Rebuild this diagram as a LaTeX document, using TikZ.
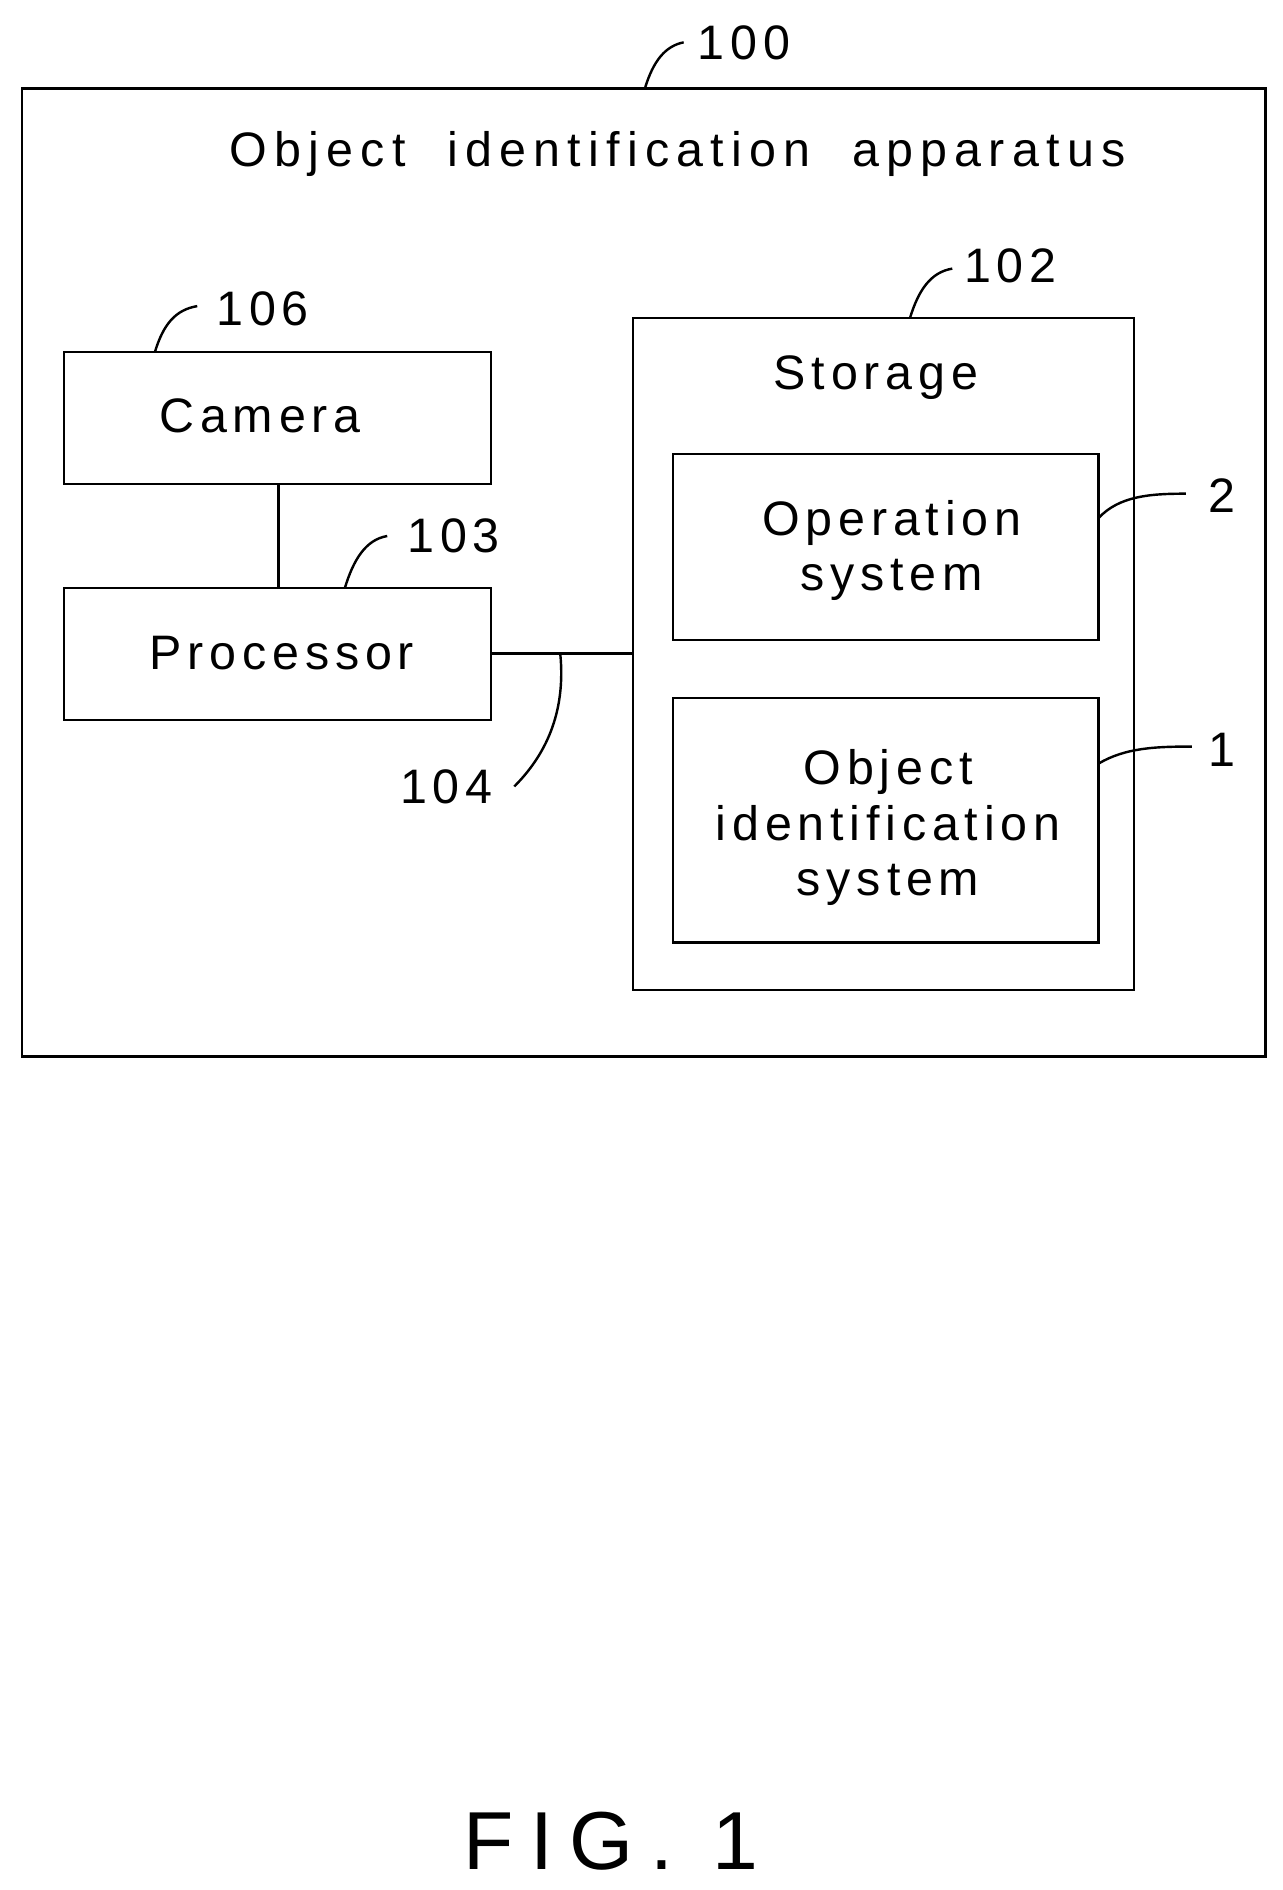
\documentclass[tikz,border=0pt]{standalone}
\usepackage{fontspec}
\setmainfont{Liberation Sans}[LetterSpace=12]
\begin{document}
\begin{tikzpicture}[x=1pt,y=-1pt,line width=2pt,
  txt/.style={font=\fontsize{40}{50}\selectfont,align=center,inner sep=0pt},
  lbl/.style={font=\fontsize{40}{40}\selectfont,inner sep=0pt}]
\useasboundingbox (0,0) rectangle (1060,1562);
\draw (18,73) rectangle (1046,873);
\node[txt,font=\fontsize{40}{50}\selectfont\addfontfeature{LetterSpace=15}] (title) at (560,127) {Object\ \ identification\ \ apparatus};
\draw (53,291) rectangle (406,400);
\node[txt] (cam) at (215,344) {Camera};
\draw (53,486) rectangle (406,595);
\node[txt] (proc) at (233,540) {Processor};
\draw (523,263) rectangle (937,818);
\node[txt] (sto) at (724,312) {Storage};
\draw (556,375) rectangle (908,529);
\node[txt] (os) at (737,455) {Operation\\[-4pt]system};
\draw (556,577) rectangle (908,779);
\node[txt] (ois) at (734,684) {Object\\[-4pt]identification\\[-4pt]system};
\coordinate (c1) at (230,400); \coordinate (c2) at (230,486);
\draw (c1) -- (c2);
\coordinate (p1) at (406,540); \coordinate (p2) at (523,540);
\draw (p1) -- (p2);
\node[lbl] (l100) at (615,35) {100};
\node[lbl] (l106) at (217,255) {106};
\node[lbl] (l103) at (375,443) {103};
\node[lbl] (l102) at (835,220) {102};
\node[lbl] (l2) at (1010,410) {2};
\node[lbl] (l1) at (1010,620) {1};
\node[lbl] (l104) at (369,650) {104};
\draw (533,73) .. controls (540,50) and (550,38) .. (565,35);
\draw (128,291) .. controls (135,268) and (145,256) .. (163,253);
\draw (285,486) .. controls (292,463) and (302,446) .. (320,443);
\draw (752,263) .. controls (759,240) and (769,225) .. (787,222);
\draw (908,428) .. controls (925,410) and (950,408) .. (980,408);
\draw (908,631) .. controls (930,618) and (955,617) .. (985,617);
\draw (463,540) .. controls (468,590) and (450,625) .. (425,650);
\node[font=\fontsize{68}{68}\selectfont\addfontfeature{LetterSpace=20},inner sep=0pt] (fig) at (505,1522) {FIG. 1};
\end{tikzpicture}
\end{document}
